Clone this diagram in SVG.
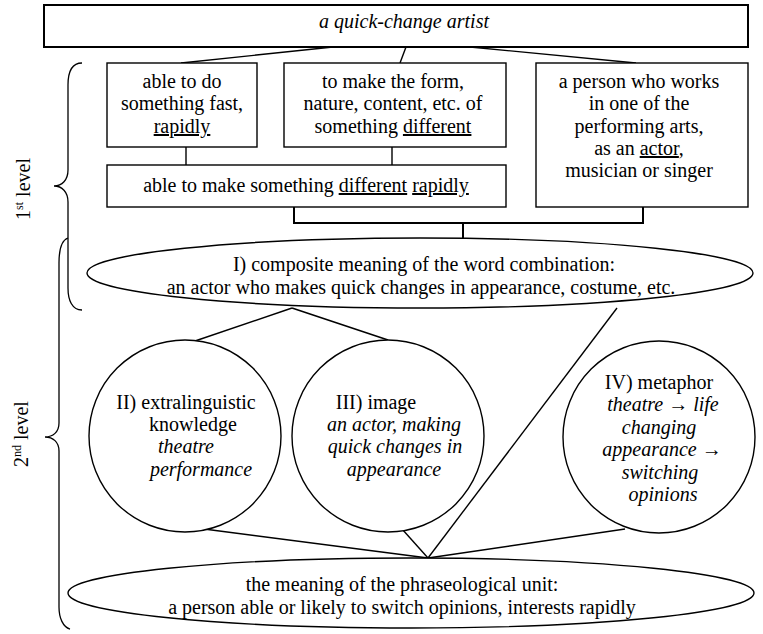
<svg xmlns="http://www.w3.org/2000/svg" width="763" height="634" viewBox="0 0 763 634">
<style>
text{font-family:'Liberation Serif','Times New Roman',serif;font-size:20px;fill:#000;text-anchor:middle}
.i{font-style:italic}
.u{text-decoration:underline}
.b{fill:#fff;stroke:#000;stroke-width:1.4}
.c{fill:none;stroke:#000;stroke-width:1.4}
.br{fill:none;stroke:#000;stroke-width:1.3}
</style>
<rect width="763" height="634" fill="#fff"/>
<g id="connectors">
<line class="c" x1="333" y1="47" x2="181" y2="63"/>
<line class="c" x1="406" y1="47" x2="400" y2="63"/>
<line class="c" x1="470" y1="47" x2="636" y2="63"/>
<line class="c" x1="186" y1="147" x2="186" y2="165"/>
<line class="c" x1="392" y1="147" x2="392" y2="165"/>
<polyline class="c" style="stroke-width:2" points="294,207 294,223 643,223 643,207"/>
<line class="c" style="stroke-width:2" x1="463" y1="223" x2="463" y2="238"/>
<line class="c" x1="292" y1="308" x2="195" y2="341"/>
<line class="c" x1="292" y1="308" x2="388" y2="340"/>
<line class="c" x1="617" y1="308" x2="428" y2="558"/>
<line class="c" x1="204" y1="529" x2="428" y2="558"/>
<line class="c" x1="402" y1="529" x2="428" y2="558"/>
<line class="c" x1="625" y1="529" x2="428" y2="558"/>
</g>
<g id="braces">
<path class="br" d="M82,63 C72,63 68,72 68,85 L68,170 C68,180 62,186 54,186 C62,186 68,192 68,202 L68,288 C68,300 72,310 82,310"/>
<path class="br" d="M68,238 C62,240 59,250 59,263 L59,423 C59,432 53,437 45,437 C53,437 59,442 59,451 L59,607 C59,618 63,627 70,629"/>
<text transform="translate(30,189) rotate(-90)">1<tspan font-size="12" baseline-shift="super">st</tspan> level</text>
<text transform="translate(28,434) rotate(-90)">2<tspan font-size="12" baseline-shift="super">nd</tspan> level</text>
</g>
<g id="top">
<rect x="44" y="5" width="704" height="42" fill="#fff" stroke="#000" stroke-width="2"/>
<text class="i" x="404" y="28">a quick-change artist</text>
</g>
<g id="box1">
<rect class="b" x="107" y="63" width="150" height="84"/>
<text x="182" y="88">able to do</text>
<text x="182" y="110">something fast,</text>
<text x="182" y="133"><tspan class="u">rapidly</tspan></text>
</g>
<g id="box2">
<rect class="b" x="284" y="63" width="222" height="84"/>
<text x="393" y="88">to make the form,</text>
<text x="393" y="110">nature, content, etc. of</text>
<text x="393" y="133">something <tspan class="u">different</tspan></text>
</g>
<g id="box3">
<rect class="b" x="536" y="63" width="212" height="144"/>
<text x="639" y="88">a person who works</text>
<text x="639" y="110">in one of the</text>
<text x="639" y="133">performing arts,</text>
<text x="639" y="155">as an <tspan class="u">actor</tspan>,</text>
<text x="639" y="177">musician or singer</text>
</g>
<g id="box4">
<rect class="b" x="107" y="165" width="399" height="42"/>
<text x="306" y="192">able to make something <tspan class="u">different</tspan> <tspan class="u">rapidly</tspan></text>
</g>
<g id="composite">
<ellipse class="b" cx="420" cy="273" rx="333" ry="35"/>
<text x="424" y="271">I) composite meaning of the word combination:</text>
<text x="421" y="294">an actor who makes quick changes in appearance, costume, etc.</text>
</g>
<g id="knowledge">
<circle class="b" cx="185" cy="436" r="96"/>
<text x="186" y="409">II) extralinguistic</text>
<text x="193" y="431">knowledge</text>
<text class="i" x="186" y="453">theatre</text>
<text class="i" x="201" y="476">performance</text>
</g>
<g id="image">
<circle class="b" cx="388" cy="436" r="96"/>
<text x="376" y="409">III) image</text>
<text class="i" x="394" y="431">an actor, making</text>
<text class="i" x="395" y="453">quick changes in</text>
<text class="i" x="394" y="476">appearance</text>
</g>
<g id="metaphor">
<circle class="b" cx="659" cy="437" r="96"/>
<text x="659" y="389">IV) metaphor</text>
<text class="i" x="663" y="411">theatre → life</text>
<text class="i" x="659" y="434">changing</text>
<text class="i" x="662" y="456">appearance →</text>
<text class="i" x="660" y="479">switching</text>
<text class="i" x="663" y="501">opinions</text>
</g>
<g id="meaning">
<ellipse class="b" cx="411" cy="593" rx="343" ry="35"/>
<text x="402" y="591">the meaning of the phraseological unit:</text>
<text x="402" y="614">a person able or likely to switch opinions, interests rapidly</text>
</g>
</svg>
